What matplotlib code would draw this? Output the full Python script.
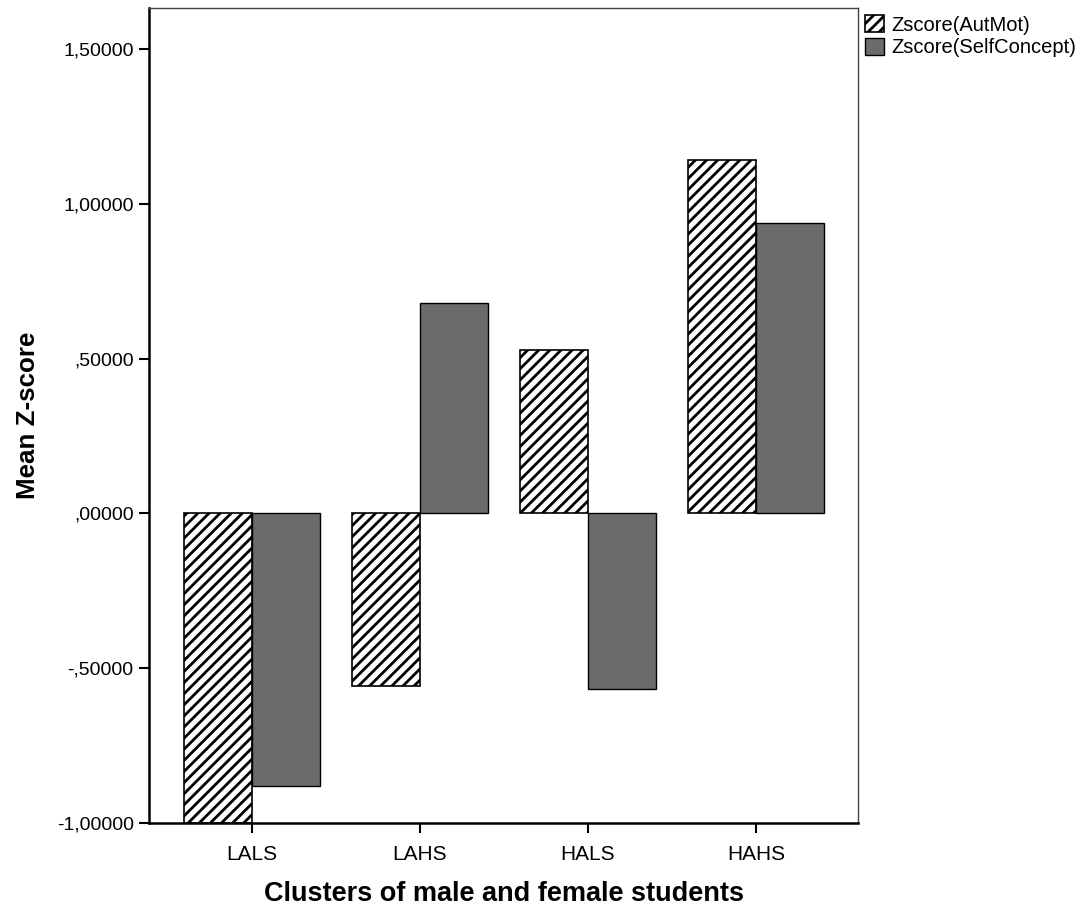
import numpy as np
import matplotlib.pyplot as plt

# dados do gráfico
clusters = ['LALS', 'LAHS', 'HALS', 'HAHS']
aut_mot = [-1.00, -0.557, 0.527, 1.142]
self_concept = [-0.880, 0.680, -0.566, 0.938]
y_ticks = [-1.0, -0.5, 0.0, 0.5, 1.0, 1.5]
y_labels = ['-1,00000', '-,50000', ',00000', ',50000', '1,00000', '1,50000']

plt.rcParams['font.family'] = ['Liberation Sans', 'DejaVu Sans']
plt.rcParams['hatch.linewidth'] = 2.0

fig = plt.figure(figsize=(10.82, 9.08), dpi=100)
ax = fig.add_axes([0.1377, 0.0936, 0.6553, 0.8976])

x = np.arange(len(clusters))
w = 0.405
ax.bar(x - w / 2, aut_mot, w, color='white', edgecolor='black', hatch='///',
       linewidth=1.2, label='Zscore(AutMot)')
ax.bar(x + w / 2, self_concept, w, color='#6b6b6b', edgecolor='black',
       linewidth=1.0, label='Zscore(SelfConcept)')

ax.set_xlim(-0.613, 3.607)
ax.set_ylim(-1.0, 1.632)
ax.set_xticks(x)
ax.set_xticklabels(clusters, fontsize=15)
ax.set_yticks(y_ticks)
ax.set_yticklabels(y_labels, fontsize=14)
ax.tick_params(axis='both', direction='out', length=7, width=1.5, pad=4)
ax.tick_params(axis='x', pad=9)

for s in ['left', 'bottom']:
    ax.spines[s].set_linewidth(1.8)
for s in ['top', 'right']:
    ax.spines[s].set_linewidth(1.0)
    ax.spines[s].set_color('#444444')

ax.set_xlabel('Clusters of male and female students', fontsize=19.5,
              fontweight='bold', labelpad=12)
ax.set_ylabel('Mean Z-score', fontsize=18.7, fontweight='bold', labelpad=12)

leg = ax.legend(loc='upper left', bbox_to_anchor=(1.0, 1.0), frameon=False,
                fontsize=14.5, handlelength=0.95, handleheight=0.95,
                handletextpad=0.35, borderaxespad=0.15, labelspacing=0.15,
                borderpad=0.2)

fig.savefig('out.png', dpi=100)
